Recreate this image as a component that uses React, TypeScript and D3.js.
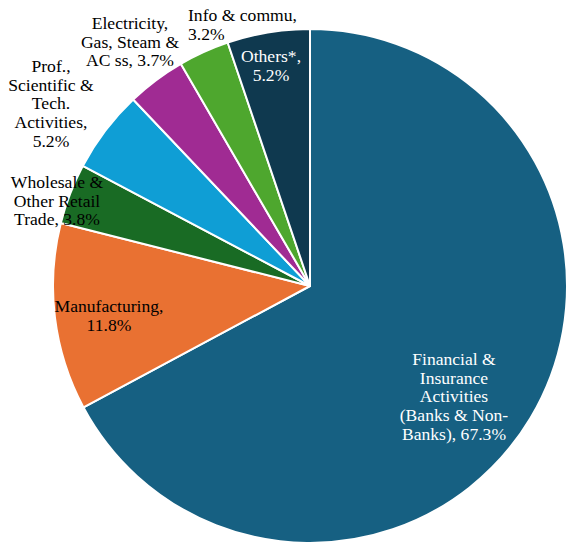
import React from "react";
import * as d3 from "d3";

const categories = [
  "Financial & Insurance Activities (Banks & Non-Banks)",
  "Manufacturing",
  "Wholesale & Other Retail Trade",
  "Prof., Scientific & Tech. Activities",
  "Electricity, Gas, Steam & AC ss",
  "Info & commu",
  "Others*",
];
const values = [67.3, 11.8, 3.8, 5.2, 3.7, 3.2, 5.2];
const labelLines = [
  ["Financial &", "Insurance", "Activities", "(Banks & Non-", "Banks), 67.3%"],
  ["Manufacturing,", "11.8%"],
  ["Wholesale &", "Other Retail", "Trade, 3.8%"],
  ["Prof.,", "Scientific &", "Tech.", "Activities,", "5.2%"],
  ["Electricity,", "Gas, Steam &", "AC ss, 3.7%"],
  ["Info & commu,", "3.2%"],
  ["Others*,", "5.2%"],
];

const colors = ["#166082", "#E97132", "#196B24", "#0F9ED5", "#A02B93", "#4EA72E", "#0F394F"];
const textColors = ["#fff", "#000", "#000", "#000", "#000", "#000", "#fff"];
// label layout: [x, first baseline y, anchor]
const labelLayout: [number, number, string][] = [
  [454, 365, "middle"],
  [109, 312, "middle"],
  [57, 188, "middle"],
  [51, 72, "middle"],
  [130, 29, "middle"],
  [188, 21, "start"],
  [271, 62, "middle"],
];

export default function App() {
  const width = 570;
  const height = 544;
  const cx = 310;
  const cy = 286;
  const r = 257;
  const pie = d3.pie<number>().sort(null).value((d) => d);
  const arcs = pie(values);
  const arc = d3.arc<d3.PieArcDatum<number>>().innerRadius(0).outerRadius(r);
  const lineH = 18.7;
  return (
    <svg
      width={width}
      height={height}
      style={{ position: "absolute", left: 0, top: 0, background: "#fff" }}
      fontFamily="'Liberation Serif', 'Times New Roman', serif"
      fontSize={17.6}
    >
      <g transform={`translate(${cx},${cy})`}>
        {arcs.map((a, i) => (
          <path key={categories[i]} d={arc(a) || ""} fill={colors[i]} stroke="#fff" strokeWidth={2} strokeLinejoin="round" />
        ))}
      </g>
      {labelLines.map((lines, i) => {
        const [x, y, anchor] = labelLayout[i];
        return (
          <text key={i} x={x} y={y} textAnchor={anchor} fill={textColors[i]}>
            {lines.map((l, j) => (
              <tspan key={j} x={x} y={y + j * lineH}>
                {l}
              </tspan>
            ))}
          </text>
        );
      })}
    </svg>
  );
}
